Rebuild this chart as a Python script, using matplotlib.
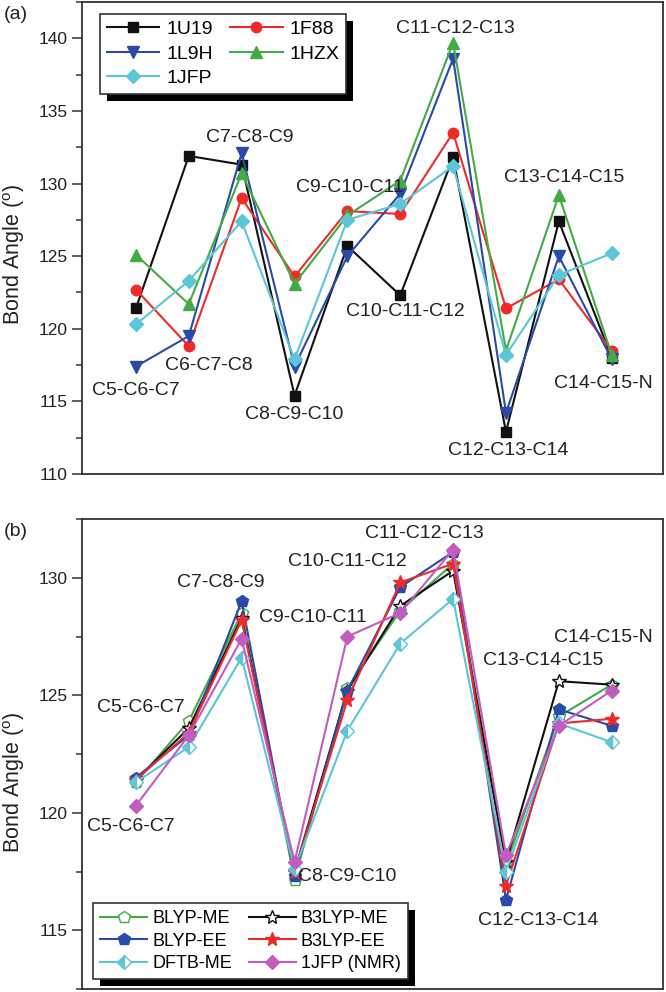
import matplotlib
matplotlib.use('Agg')
import matplotlib.pyplot as plt
import matplotlib.patheffects as pe

plt.rcParams['font.family'] = ['Liberation Sans', 'DejaVu Sans']
plt.rcParams['mathtext.fontset'] = 'custom'
plt.rcParams['mathtext.rm'] = 'Liberation Sans'

# bond angle positions along the chain
pos = list(range(10))

# panel (a): crystal structures
u19 = [121.4, 131.9, 131.3, 115.4, 125.7, 122.3, 131.8, 112.9, 127.4, 118.0]
f88 = [122.7, 118.8, 129.0, 123.6, 128.1, 127.9, 133.5, 121.4, 123.4, 118.5]
l9h = [117.4, 119.5, 132.1, 117.4, 125.0, 129.3, 138.6, 114.2, 125.0, 117.9]
hzx = [125.1, 121.7, 130.7, 123.1, 127.8, 130.2, 139.7, 118.5, 129.2, 118.2]
jfp = [120.3, 123.3, 127.4, 117.9, 127.5, 128.6, 131.2, 118.2, 123.7, 125.2]

# panel (b): calculations vs NMR
blyp_me = [121.3, 123.9, 128.5, 117.15, 125.3, 128.6, 130.6, 117.8, 124.1, 125.45]
b3lyp_me = [121.4, 123.6, 128.3, 117.5, 125.2, 128.8, 130.3, 117.9, 125.6, 125.45]
blyp_ee = [121.5, 123.3, 129.0, 117.3, 125.2, 129.6, 131.1, 116.3, 124.4, 123.7]
b3lyp_ee = [121.4, 123.4, 128.2, 117.5, 124.8, 129.8, 130.6, 116.9, 123.8, 124.0]
dftb_me = [121.3, 122.8, 126.6, 117.6, 123.5, 127.2, 129.1, 117.5, 123.8, 123.0]
jfp_nmr = [120.3, 123.3, 127.4, 117.9, 127.5, 128.5, 131.2, 118.2, 123.7, 125.2]

# angle labels (text, x, y) for each panel
labels_a = [('C5-C6-C7', 0.0, 115.75), ('C6-C7-C8', 1.37, 117.5), ('C7-C8-C9', 2.15, 133.15),
            ('C8-C9-C10', 3.0, 114.1), ('C9-C10-C11', 4.05, 129.7), ('C10-C11-C12', 5.1, 121.2),
            ('C11-C12-C13', 6.05, 140.7), ('C12-C13-C14', 7.05, 111.6), ('C13-C14-C15', 8.1, 130.4),
            ('C14-C15-N', 8.85, 116.2)]
labels_b = [('C5-C6-C7', 0.1, 124.5), ('C5-C6-C7', -0.1, 119.4), ('C7-C8-C9', 1.6, 129.8),
            ('C9-C10-C11', 3.35, 128.3), ('C10-C11-C12', 4.0, 130.7), ('C11-C12-C13', 5.45, 131.9),
            ('C8-C9-C10', 4.0, 117.3), ('C12-C13-C14', 7.6, 115.4), ('C13-C14-C15', 7.7, 126.5),
            ('C14-C15-N', 8.85, 127.45)]

black = '#111111'
red = '#ee2a2a'
blue = '#2a4aa8'
green = '#44aa44'
cyan = '#5cc6d6'
magenta = '#c25cc0'

fig = plt.figure(figsize=(6.66, 9.92), dpi=100)
ax1 = fig.add_axes([0.1231, 0.5222, 0.8724, 0.4758])
ax2 = fig.add_axes([0.1231, 0.003, 0.8724, 0.4738])

lw = 1.5
ms = 7.5

# ---- panel (a)
ax1.plot(pos, u19, '-s', color=black, lw=lw, ms=7, label='1U19')
ax1.plot(pos, f88, '-o', color=red, lw=lw, ms=ms, label='1F88')
ax1.plot(pos, l9h, '-v', color=blue, lw=lw, ms=9, label='1L9H')
ax1.plot(pos, hzx, '-^', color=green, lw=lw, ms=9, label='1HZX')
ax1.plot(pos, jfp, '-D', color=cyan, lw=lw, ms=7.5, label='1JFP')
ax1.set_ylim(110, 142.5)
ax1.set_yticks([110, 115, 120, 125, 130, 135, 140])
ax1.set_yticks([112.5, 117.5, 122.5, 127.5, 132.5, 137.5, 142.5], minor=True)
for t, x, y in labels_a:
    ax1.text(x, y, t, ha='center', va='center', fontsize=14, color='#222222')
h, l = ax1.get_legend_handles_labels()
order = [0, 2, 4, 1, 3]
leg1 = ax1.legend([h[i] for i in order], [l[i] for i in order], ncol=2, loc='upper left',
                  bbox_to_anchor=(0.031, 0.975), borderaxespad=0, fontsize=14,
                  handlelength=2.7, handletextpad=0.35, labelspacing=0.35, columnspacing=0.9,
                  fancybox=False, framealpha=1, edgecolor='#333333', borderpad=0.35)

# ---- panel (b)
ax2.plot(pos, blyp_me, '-p', color=green, mfc='white', mec=green, lw=lw, ms=9, label='BLYP-ME')
ax2.plot(pos, b3lyp_me, '-*', color=black, mfc='white', mec=black, lw=lw, ms=10, mew=1, label='B3LYP-ME')
ax2.plot(pos, blyp_ee, '-p', color=blue, lw=lw, ms=9, label='BLYP-EE')
ax2.plot(pos, b3lyp_ee, '-*', color=red, lw=lw, ms=10, label='B3LYP-EE')
ax2.plot(pos, dftb_me, '-D', color=cyan, mfc=cyan, mfcalt='white', fillstyle='left',
         mec=cyan, lw=lw, ms=7, label='DFTB-ME')
ax2.plot(pos, jfp_nmr, '-D', color=magenta, lw=lw, ms=7.5, label='1JFP (NMR)')
ax2.set_ylim(112.5, 132.5)
ax2.set_yticks([115, 120, 125, 130])
ax2.set_yticks([112.5, 117.5, 122.5, 127.5, 132.5], minor=True)
for t, x, y in labels_b:
    ax2.text(x, y, t, ha='center', va='center', fontsize=14, color='#222222')
h, l = ax2.get_legend_handles_labels()
order = [0, 2, 4, 1, 3, 5]
leg2 = ax2.legend([h[i] for i in order], [l[i] for i in order], ncol=2, loc='lower left',
                  bbox_to_anchor=(0.019, 0.021), borderaxespad=0, fontsize=13,
                  handlelength=2.6, handletextpad=0.3, labelspacing=0.3, columnspacing=0.9,
                  fancybox=False, framealpha=1, edgecolor='#333333', borderpad=0.4)

for leg in (leg1, leg2):
    leg.get_frame().set_linewidth(1.2)
    leg.get_frame().set_path_effects([pe.SimplePatchShadow(offset=(5, -5), shadow_rgbFace='k', alpha=1),
                                      pe.Normal()])

for ax, ly in ((ax1, 0.466), (ax2, 0.44)):
    ax.set_xlim(-1.02, 9.97)
    ax.set_xticks([])
    ax.tick_params(axis='y', which='major', direction='out', length=7, width=1.1, labelsize=12.5,
                   colors='#333333', labelcolor='#222222')
    ax.tick_params(axis='y', which='minor', direction='out', length=4, width=1.1, colors='#333333')
    for s in ax.spines.values():
        s.set_linewidth(1.3)
        s.set_color('#333333')
    ax.set_ylabel(r'Bond Angle ($^{\rm o}$)', fontsize=15.5, color='#222222')
    ax.yaxis.set_label_coords(-0.094, ly)

fig.text(0.005, 0.985, '(a)', fontsize=14, ha='left', va='center', color='#222222')
fig.text(0.005, 0.464, '(b)', fontsize=14, ha='left', va='center', color='#222222')

fig.savefig('out.png', dpi=100)
